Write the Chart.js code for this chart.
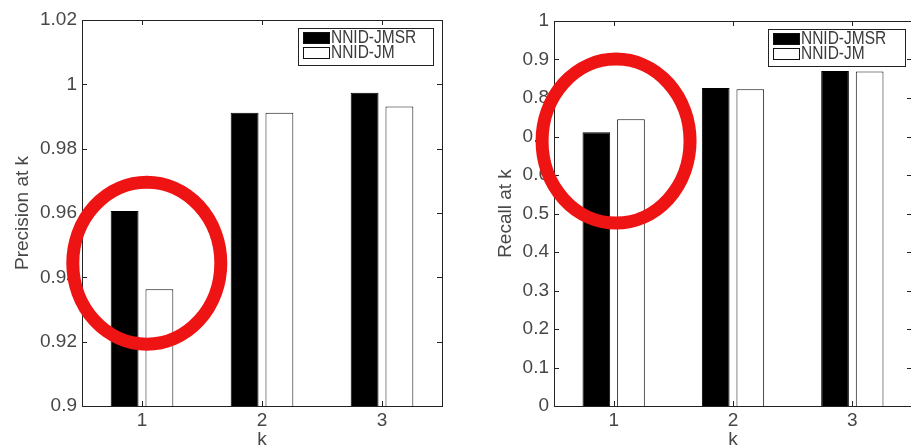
<!DOCTYPE html>
<html>
<head>
<title>Precision / Recall at k</title>
<script src="https://cdn.jsdelivr.net/npm/chart.js"></script>
<style>
  html, body { margin: 0; padding: 0; background: #fff; }
  body { width: 911px; height: 446px; overflow: hidden; position: relative; }
  .panel { position: absolute; top: 0; }
  #leftPanel { left: 0; }
  #rightPanel { left: 460px; }
</style>
</head>
<body>
<div class="panel" id="leftPanel"><canvas id="precisionChart" width="450" height="446"></canvas></div>
<div class="panel" id="rightPanel"><canvas id="recallChart" width="460" height="446"></canvas></div>

<script>
  // values
  const kLabels = ['1', '2', '3'];
  const seriesNames = ['NNID-JMSR', 'NNID-JM'];
  const precisionJMSR = [0.9606, 0.9912, 0.9974];
  const precisionJM = [0.9363, 0.9912, 0.9931];
  const recallJMSR = [0.711, 0.826, 0.870];
  const recallJM = [0.745, 0.823, 0.869];
  const precisionTicks = [0.9, 0.92, 0.94, 0.96, 0.98, 1, 1.02];
  const recallTicks = [0, 0.1, 0.2, 0.3, 0.4, 0.5, 0.6, 0.7, 0.8, 0.9, 1];

  const FONT = "'Liberation Sans', Arial, sans-serif";
  const TEXT = '#474747';

  // matlab-ish box, inward ticks, legend inside the axes and the red ring
  const matlabFrame = {
    id: 'matlabFrame',
    afterDatasetsDraw(chart) {
      const { ctx, chartArea: a, scales } = chart;
      ctx.save();
      ctx.strokeStyle = '#222';
      ctx.lineWidth = 1;
      ctx.beginPath();
      scales.y.ticks.forEach(t => {
        const y = Math.round(scales.y.getPixelForValue(t.value)) + 0.5;
        ctx.moveTo(a.left, y); ctx.lineTo(a.left + 5, y);
        ctx.moveTo(a.right, y); ctx.lineTo(a.right - 5, y);
      });
      scales.x.ticks.forEach((t, i) => {
        const x = Math.round(scales.x.getPixelForTick(i)) + 0.5;
        ctx.moveTo(x, a.top); ctx.lineTo(x, a.top + 5);
        ctx.moveTo(x, a.bottom); ctx.lineTo(x, a.bottom - 5);
      });
      ctx.stroke();
      ctx.strokeRect(Math.round(a.left) + 0.5, Math.round(a.top) + 0.5,
                     Math.round(a.right - a.left), Math.round(a.bottom - a.top));
      ctx.restore();
    },
    afterDraw(chart, args, opts) {
      const { ctx, chartArea: a, scales } = chart;
      ctx.save();

      // legend box
      const bw = opts.boxWidth, bh = 37;
      const bx = a.right - opts.boxRight - bw, by = a.top + 8;
      ctx.fillStyle = '#fff';
      ctx.fillRect(bx, by, bw, bh);
      ctx.strokeStyle = '#222';
      ctx.lineWidth = 1;
      ctx.strokeRect(bx + 0.5, by + 0.5, bw, bh);
      ctx.textBaseline = 'middle';
      chart.data.datasets.forEach((ds, i) => {
        const sy = by + 4 + i * 15;
        ctx.fillStyle = ds.backgroundColor;
        ctx.fillRect(bx + 5, sy, 27, 12);
        ctx.strokeStyle = '#111';
        ctx.strokeRect(bx + 5.5, sy + 0.5, 26, 11);
        ctx.save();
        ctx.translate(bx + 33, sy + 6.5);
        ctx.scale(0.86, 1);
        ctx.font = '18px ' + FONT;
        ctx.fillStyle = '#3a3a3a';
        ctx.fillText(ds.label, 0, 0);
        ctx.restore();
      });

      // red ring
      const r = opts.ring;
      const cx = scales.x.getPixelForValue(r.x);
      const cy = scales.y.getPixelForValue(r.y);
      ctx.strokeStyle = '#ee1414';
      ctx.lineWidth = 13;
      ctx.beginPath();
      ctx.ellipse(cx, cy, r.rx, r.ry, 0, 0, Math.PI * 2);
      ctx.stroke();
      ctx.restore();
    }
  };

  function makeChart(canvasId, title, jmsr, jm, yMin, yMax, yTicks, cfg) {
    return new Chart(document.getElementById(canvasId), {
      type: 'bar',
      data: {
        labels: kLabels,
        datasets: [
          { label: seriesNames[0], data: jmsr, backgroundColor: '#000', borderColor: '#000', borderWidth: 1 },
          { label: seriesNames[1], data: jm, backgroundColor: '#fff', borderColor: '#111', borderWidth: 1 }
        ]
      },
      options: {
        responsive: false,
        animation: false,
        layout: { padding: { top: cfg.top, right: 8, left: 0, bottom: 0 } },
        datasets: { bar: { categoryPercentage: 0.58, barPercentage: 0.8 } },
        plugins: {
          legend: { display: false },
          tooltip: { enabled: false },
          matlabFrame: cfg.frame
        },
        scales: {
          x: {
            afterFit: s => { s.height = 40; },
            grid: { display: false, drawTicks: false },
            border: { display: false },
            ticks: { color: TEXT, font: { family: FONT, size: 19 }, padding: 3 },
            title: { display: true, text: 'k', color: TEXT, font: { family: FONT, size: 19 }, padding: { top: 0, bottom: -5 } }
          },
          y: {
            min: yMin,
            max: yMax,
            afterBuildTicks: s => { s.ticks = yTicks.map(v => ({ value: v })); },
            afterFit: s => { s.width = cfg.axisWidth; },
            grid: { display: false, drawTicks: false },
            border: { display: false },
            ticks: { color: TEXT, font: { family: FONT, size: 19 }, padding: 5,
                     callback: v => String(+Number(v).toFixed(2)) },
            title: { display: true, text: title, color: TEXT, font: { family: FONT, size: 19 },
                     padding: { top: cfg.titlePad, bottom: 0 } }
          }
        }
      },
      plugins: [matlabFrame]
    });
  }

  makeChart('precisionChart', 'Precision at k', precisionJMSR, precisionJM, 0.9, 1.02, precisionTicks, {
    top: 20, axisWidth: 82, titlePad: 11,
    frame: { boxWidth: 135, boxRight: 9, ring: { x: 0.04, y: 0.9444, rx: 74, ry: 81 } }
  });

  makeChart('recallChart', 'Recall at k', recallJMSR, recallJM, 0, 1, recallTicks, {
    top: 21, axisWidth: 94, titlePad: 34,
    frame: { boxWidth: 137, boxRight: 7, ring: { x: 0.02, y: 0.688, rx: 74, ry: 82 } }
  });
</script>
</body>
</html>
